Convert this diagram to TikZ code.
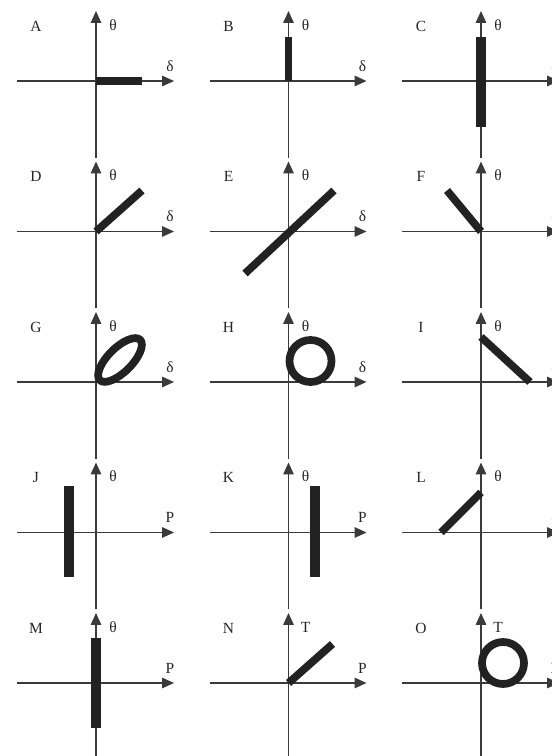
\documentclass[tikz,border=0pt]{standalone}
\usepackage{fontspec}
\setmainfont{Liberation Serif}
\usetikzlibrary{arrows.meta, calc}

\definecolor{axisgray}{HTML}{3A3A3A}
\definecolor{locusgray}{HTML}{222222}

\begin{document}
\begin{tikzpicture}[x=0.025cm, y=0.025cm,
    axis/.style={draw=axisgray, line width=0.9pt, -{Triangle[length=8.5pt, width=7.5pt]}},
    locus/.style={draw=locusgray, line width=5.5pt},
    bar/.style={locus, line width=6.5pt},
    lbl/.style={font=\fontsize{11}{13}\selectfont, text=black!85, inner sep=0pt}]

    \useasboundingbox (0,0) rectangle (552,756);
    \clip (0,0) rectangle (552,756);

    % Define the origin of every panel (axis crossing)
    \foreach \n/\x/\y in {A/96/675, B/288.5/675, C/481/675,
                          D/96/524.5, E/288.5/524.5, F/481/524.5,
                          G/96/374, H/288.5/374, I/481/374,
                          J/96/223.5, K/288.5/223.5, L/481/223.5,
                          M/96/73, N/288.5/73, O/481/73}{
        \coordinate (\n) at (\x,\y);
    }

    % Axes and their labels
    \foreach \n/\v/\h in {A/θ/δ, B/θ/δ, C/θ/δ, D/θ/δ, E/θ/δ, F/θ/δ,
                          G/θ/δ, H/θ/δ, I/θ/δ, J/θ/P, K/θ/P, L/θ/δ,
                          M/θ/P, N/T/P, O/T/P}{
        \draw[axis] ($(\n)+(0,-77)$) -- ($(\n)+(0,70)$); % vertical axis
        \draw[axis] ($(\n)+(-79,0)$) -- ($(\n)+(78,0)$); % horizontal axis
        \node[lbl] (\n-name) at ($(\n)+(-60,55)$) {\n};
        \node[lbl] (\n-v) at ($(\n)+(17,56)$) {\v};
        \node[lbl] (\n-h) at ($(\n)+(74,15)$) {\h};
    }

    % Loci, one per panel
    \draw[locus] (A) -- ++(46,0);
    \draw[locus] (B) -- ++(0,44);
    \draw[bar] ($(C)+(0,44)$) -- ($(C)+(0,-46)$);
    \draw[locus] (D) -- ++(46,41);
    \draw[locus] ($(E)+(-43.5,-42)$) -- ($(E)+(45.5,41)$);
    \draw[locus] ($(F)+(-34,41)$) -- (F);
    \draw[locus] ($(G)+(24,22)$) ellipse [x radius=28.5, y radius=12, rotate=45];
    \draw[locus] ($(H)+(22,21)$) circle [radius=21];
    \draw[locus] ($(I)+(0,45)$) -- ($(I)+(49,0)$);
    \draw[bar] ($(J)+(-27,46)$) -- ($(J)+(-27,-44.5)$);
    \draw[bar] ($(K)+(26.5,46)$) -- ($(K)+(26.5,-44.5)$);
    \draw[locus] ($(L)+(-40,0)$) -- ($(L)+(0,40)$);
    \draw[bar] ($(M)+(0,45)$) -- ($(M)+(0,-45)$);
    \draw[locus] (N) -- ++(44,39);
    \draw[locus] ($(O)+(22,20)$) circle [radius=21];

\end{tikzpicture}
\end{document}
